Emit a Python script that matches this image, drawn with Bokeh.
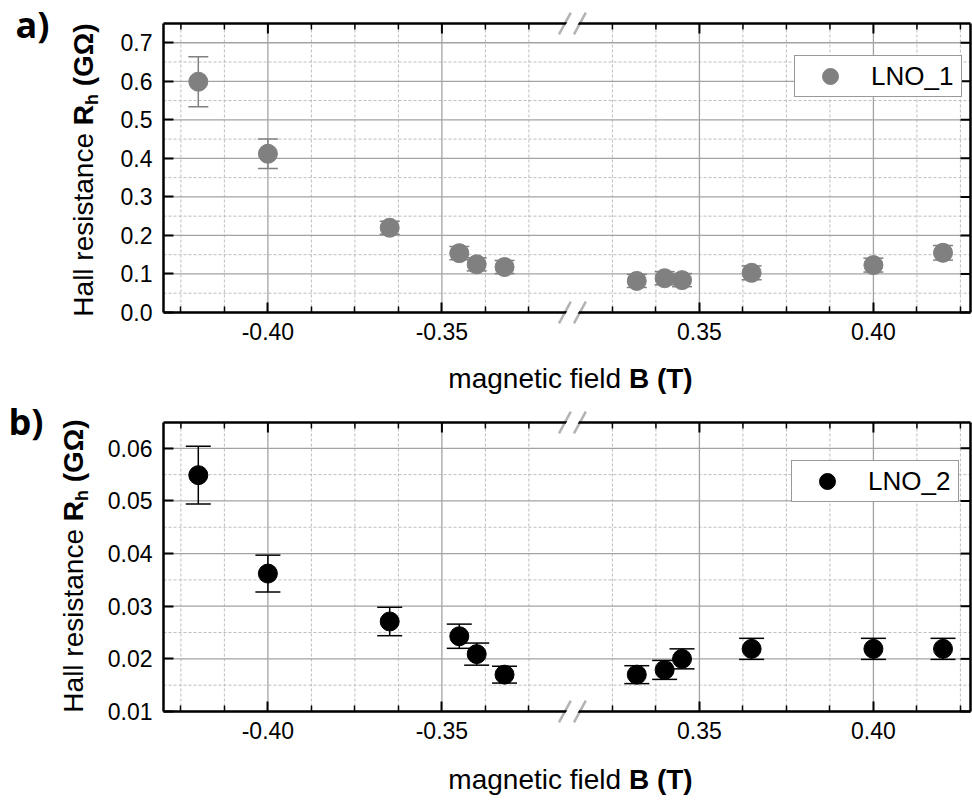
import math
from bokeh.plotting import figure
from bokeh.models import (ColumnDataSource, FixedTicker, LinearAxis, Range1d, Whisker, TeeHead,
                          Label, PolyAnnotation, Legend, LegendItem)
from bokeh.layouts import column
from bokeh.embed import file_html
from bokeh.resources import INLINE

# ---------------- data ----------------
field_T = [-0.42, -0.40, -0.365, -0.345, -0.34, -0.332, 0.332, 0.34, 0.345, 0.365, 0.40, 0.42]

rh_lno1 = [0.599, 0.412, 0.220, 0.154, 0.125, 0.118, 0.082, 0.089, 0.084, 0.103, 0.123, 0.155]
err_lno1 = [0.065, 0.038, 0.017, 0.017, 0.017, 0.017, 0.017, 0.017, 0.017, 0.018, 0.018, 0.019]

rh_lno2 = [0.0549, 0.0362, 0.0271, 0.0243, 0.0209, 0.0170, 0.0170, 0.0179, 0.0200, 0.0219, 0.0219, 0.0219]
err_lno2 = [0.0055, 0.0035, 0.0027, 0.0023, 0.0021, 0.0016, 0.0017, 0.0018, 0.0019, 0.0020, 0.0020, 0.0020]

x_major_ticks = [-0.40, -0.35, 0.35, 0.40]
x_major_labels = ["-0.40", "-0.35", "0.35", "0.40"]
x_minor_ticks = [-0.425, -0.4125, -0.3875, -0.375, -0.3625, -0.3375, -0.325,
                 0.325, 0.3375, 0.3625, 0.375, 0.3875, 0.4125, 0.425]

ya_ticks = [0.0, 0.1, 0.2, 0.3, 0.4, 0.5, 0.6, 0.7]
ya_labels = ["0.0", "0.1", "0.2", "0.3", "0.4", "0.5", "0.6", "0.7"]
ya_minor = [0.05, 0.15, 0.25, 0.35, 0.45, 0.55, 0.65]

yb_ticks = [0.01, 0.02, 0.03, 0.04, 0.05, 0.06]
yb_labels = ["0.01", "0.02", "0.03", "0.04", "0.05", "0.06"]
yb_minor = [0.015, 0.025, 0.035, 0.045, 0.055]

# ---------------- broken axis mapping ----------------
SHIFT = 0.626          # gap removed between the negative and positive field segments
BREAK_B = 0.3135


def bx(b):
    return round(b if b < 0 else b - SHIFT, 6)


FONT = "Liberation Sans"
W = 972
BOX_L, BOX_R = 163, 970          # plot box, page px
XR = (-0.43, round(-0.43 + (BOX_R - BOX_L) / 3480.0, 6))
PXU = (BOX_R - BOX_L) / (XR[1] - XR[0])
XS = XR[0] - BOX_L / PXU
XE = XR[1] + (W - BOX_R) / PXU
MID = 0.347   # distance (in em) from the alphabetic baseline to the centre of the text box
TFS = 28      # axis title font size


def make_panel(vals, errs, color, yr, yticks, ylabels, yminor, top_ref, H, box_t, box_b,
               legend_label, legend_ref, panel_label, panel_ref, ylab_ref, xlab_base_ref, cap):
    bt = box_t - top_ref
    bb = box_b - top_ref
    pyu = (bb - bt) / (yr[1] - yr[0])
    YE = yr[1] + bt / pyu
    YS = yr[0] - (H - bb) / pyu

    p = figure(width=W, height=H, x_range=Range1d(XS, XE), y_range=Range1d(YS, YE),
               x_axis_type=None, y_axis_type=None,
               output_backend="svg", toolbar_location=None, min_border=0)
    p.title.visible = False
    p.outline_line_color = None
    p.background_fill_color = "white"
    p.border_fill_color = "white"

    def dx(ref_x):
        return XS + ref_x / PXU

    def dy(ref_y):
        return YE - (ref_y - top_ref) / pyu

    xt = [bx(v) for v in x_major_ticks]
    xm = [bx(v) for v in x_minor_ticks]

    # grid lines limited to the plot box
    gm = p.segment(x0=xm, y0=[yr[0]] * len(xm), x1=xm, y1=[yr[1]] * len(xm),
                   line_color="#bdbdbd", line_width=1, line_dash="3 2")
    gym = p.segment(x0=[XR[0]] * len(yminor), y0=yminor, x1=[XR[1]] * len(yminor), y1=yminor,
                    line_color="#bdbdbd", line_width=1, line_dash="3 2")
    gM = p.segment(x0=xt, y0=[yr[0]] * len(xt), x1=xt, y1=[yr[1]] * len(xt),
                   line_color="#a3a3a3", line_width=1.3)
    gyM = p.segment(x0=[XR[0]] * len(yticks), y0=yticks, x1=[XR[1]] * len(yticks), y1=yticks,
                    line_color="#a3a3a3", line_width=1.3)
    for g in (gm, gym, gM, gyM):
        g.level = "underlay"

    # axes placed on the plot box
    xticker = FixedTicker(ticks=xt, minor_ticks=xm)
    yticker = FixedTicker(ticks=yticks, minor_ticks=[])
    xa = LinearAxis(ticker=xticker, fixed_location=yr[0], bounds=XR)
    xa.major_label_overrides = {t: l for t, l in zip(xt, x_major_labels)}
    ya = LinearAxis(ticker=yticker, fixed_location=XR[0], bounds=yr)
    ya.major_label_overrides = {t: l for t, l in zip(yticks, ylabels)}
    p.add_layout(xa, "below")
    p.add_layout(ya, "left")
    xa.major_tick_in = 10
    xa.major_tick_out = 0
    xa.minor_tick_in = 6
    xa.minor_tick_out = 0
    xa.minor_tick_line_width = 1.5
    ya.major_tick_in = 10
    ya.major_tick_out = 0
    ya.minor_tick_in = 0
    ya.minor_tick_out = 0
    for ax in (xa, ya):
        ax.axis_line_width = 2.5
        ax.axis_line_color = "black"
        ax.major_tick_line_width = 2
        ax.major_tick_line_color = "black"
        ax.minor_tick_line_color = "black"
        ax.major_label_text_font = FONT
        ax.major_label_text_color = "black"
        ax.major_label_text_font_size = "23px"
    xa.major_label_standoff = 10
    ya.major_label_standoff = 11

    # top and right box edges with inward ticks
    p.segment(x0=[XR[0], XR[1]], y0=[yr[1], yr[0]], x1=[XR[1], XR[1]], y1=[yr[1], yr[1]],
              line_color="black", line_width=2.5)
    p.segment(x0=xt, y0=[yr[1]] * len(xt), x1=xt, y1=[yr[1] - 10 / pyu] * len(xt),
              line_color="black", line_width=2)
    p.segment(x0=xm, y0=[yr[1]] * len(xm), x1=xm, y1=[yr[1] - 6 / pyu] * len(xm),
              line_color="black", line_width=1.5)
    p.segment(x0=[XR[1]] * len(yticks), y0=yticks, x1=[XR[1] - 10 / PXU] * len(yticks), y1=yticks,
              line_color="black", line_width=2)

    src = ColumnDataSource(dict(
        x=[bx(b) for b in field_T],
        y=vals,
        upper=[v + e for v, e in zip(vals, errs)],
        lower=[v - e for v, e in zip(vals, errs)],
    ))
    wh = Whisker(source=src, base="x", upper="upper", lower="lower",
                 line_color=color, line_width=1.5,
                 upper_head=TeeHead(size=cap, line_color=color, line_width=1.5),
                 lower_head=TeeHead(size=cap, line_color=color, line_width=1.5))
    p.add_layout(wh)
    r = p.scatter("x", "y", source=src, size=19, fill_color=color, line_color=color)

    # legend
    lx = legend_ref[0]
    ly = H - (legend_ref[1] - top_ref)
    leg = Legend(items=[LegendItem(label=legend_label, renderers=[r])], location=(lx, ly),
                 glyph_width=70, glyph_height=40, label_standoff=6, label_width=90,
                 padding=0, margin=0, spacing=0,
                 border_line_color="#333333", border_line_width=1,
                 background_fill_color="white", background_fill_alpha=1,
                 label_text_font=FONT, label_text_font_size="26px", label_text_color="black")
    p.add_layout(leg)

    # axis break marks
    bxd = bx(BREAK_B)
    half_dx, half_dy = 5.9, 10.8
    sl = half_dx / half_dy
    hy = 3.0
    for yedge in (yr[0], yr[1]):
        c1 = bxd - 7.5 / PXU
        c2 = bxd + 7.5 / PXU
        p.add_layout(PolyAnnotation(
            xs=[c1 - hy * sl / PXU + 1.5 / PXU, c2 - hy * sl / PXU - 1.5 / PXU,
                c2 + hy * sl / PXU - 1.5 / PXU, c1 + hy * sl / PXU + 1.5 / PXU],
            ys=[yedge - hy / pyu, yedge - hy / pyu, yedge + hy / pyu, yedge + hy / pyu],
            fill_color="white", fill_alpha=1, line_color=None))
        for c in (c1, c2):
            p.add_layout(PolyAnnotation(
                xs=[c - half_dx / PXU, c + half_dx / PXU],
                ys=[yedge - half_dy / pyu, yedge + half_dy / pyu],
                fill_color=None, line_color="black", line_width=2.5))

    # y-axis title (rotated, mixed regular/bold with subscript), centred on ylab_ref[1]
    fs = TFS
    sub = 18
    base_x, center_y = ylab_ref
    o_R = 6.835 * fs
    o_h = o_R + 0.722 * fs
    o_G = o_h + 0.611 * sub + 0.278 * fs
    total = o_G + 2.212 * fs
    start_y = center_y + total / 2
    pieces = [
        ("Hall resistance", "normal", fs, 0.0, 0.0),
        ("R", "bold", fs, o_R, 0.0),
        ("h", "bold", sub, o_h, 5.0),
        ("(GΩ)", "bold", fs, o_G, 0.0),
    ]
    for txt, style, size, off, shift in pieces:
        p.add_layout(Label(x=dx(base_x + shift - MID * size), y=dy(start_y - off), text=txt,
                           angle=math.pi / 2,
                           text_font=FONT, text_font_size=f"{size}px", text_font_style=style,
                           text_color="black", text_align="left", text_baseline="middle"))

    # x-axis title
    xs0 = 570 - (6.169 * fs + 0.278 * fs + 2.277 * fs) / 2
    yb = xlab_base_ref - MID * fs
    p.add_layout(Label(x=dx(xs0), y=dy(yb), text="magnetic field",
                       text_font=FONT, text_font_size=f"{fs}px", text_color="black",
                       text_align="left", text_baseline="middle"))
    p.add_layout(Label(x=dx(xs0 + 6.169 * fs + 0.278 * fs), y=dy(yb), text="B (T)",
                       text_font=FONT, text_font_size=f"{fs}px", text_font_style="bold",
                       text_color="black", text_align="left", text_baseline="middle"))

    # panel label
    p.add_layout(Label(x=dx(panel_ref[0]), y=dy(panel_ref[1] - 0.388 * 36), text=panel_label,
                       text_font="Open Sans", text_font_size="36px", text_font_style="bold",
                       text_color="black", text_align="left", text_baseline="middle"))
    return p


HA = 395
HB = 802 - HA
pa = make_panel(rh_lno1, err_lno1, "#808080", (0.0, 0.75), ya_ticks, ya_labels, ya_minor,
                0, HA, 23, 312, "LNO_1", (794, 97), "a)", (15, 38), (93, 170), 388, 20)
pb = make_panel(rh_lno2, err_lno2, "black", (0.01, 0.0649), yb_ticks, yb_labels, yb_minor,
                HA, HB, 422, 711, "LNO_2", (791, 502), "b)", (8, 435), (83, 566), 789, 25)

layout = column(pa, pb, spacing=0)
open("out.html", "w").write(file_html(layout, INLINE))
